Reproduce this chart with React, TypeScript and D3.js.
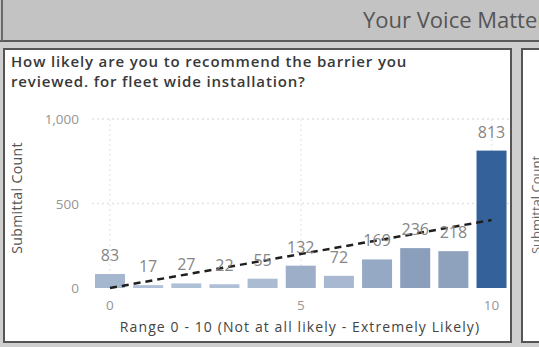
import React from "react";
import * as d3 from "d3";

// Survey responses: recommendation score (0-10) and submittal counts
const scores = [0, 1, 2, 3, 4, 5, 6, 7, 8, 9, 10];
const counts = [83, 17, 27, 22, 55, 132, 72, 169, 236, 218, 813];
const yTicks = [0, 500, 1000];
const xTicks = [0, 5, 10];
// Trend line values at the first and last score
const trendScores = [0, 10];
const trendValues = [0, 402];

const W = 539;
const H = 347;
const FONT = "'Open Sans', 'Noto Sans', sans-serif";

export default function App() {
  const x = d3.scaleLinear().domain([-0.5, 10.5]).range([90.9, 510.6]);
  const y = d3.scaleLinear().domain([0, 1000]).range([288, 119]);
  const barW = 30;
  const color = d3
    .scaleLinear<string>()
    .domain([0, 236, 813])
    .range(["#b3c4d9", "#8b9ebb", "#35619a"]);

  const trendLine = d3
    .line<number>()
    .x((_, i) => x(trendScores[i]))
    .y((d) => y(d));

  return (
    <svg
      width={W}
      height={H}
      style={{ position: "absolute", left: 0, top: 0, display: "block" }}
    >
      <defs>
        <clipPath id="sidePanel">
          <rect x={522} y={49} width={17} height={293} />
        </clipPath>
      </defs>

      {/* page background and header band */}
      <rect x={0} y={0} width={W} height={H} fill="#cfcfcf" />
      <rect x={0} y={0} width={W} height={41} fill="#c3c3c3" />
      <line x1={0} x2={W} y1={41} y2={41} stroke="#5a5a5a" strokeWidth={2} />
      <line x1={2} x2={2} y1={0} y2={41} stroke="#6a6a6a" strokeWidth={2} />
      <text x={363} y={28} fontFamily={FONT} fontSize={22} fill="#555">
        Your Voice Matters
      </text>

      {/* main panel */}
      <rect
        x={4}
        y={49}
        width={507}
        height={293}
        fill="#ffffff"
        stroke="#555"
        strokeWidth={2}
      />
      {/* neighbouring panel */}
      <rect
        x={522}
        y={49}
        width={40}
        height={293}
        fill="#ffffff"
        stroke="#555"
        strokeWidth={2}
      />
      <g clipPath="url(#sidePanel)">
        <text
          transform={`translate(541, 205) rotate(-90)`}
          textAnchor="middle"
          fontFamily={FONT}
          fontSize={13}
          fill="#666"
        >
          Submittal Count
        </text>
      </g>

      {/* title */}
      <text
        x={11}
        y={67}
        fontFamily={FONT}
        fontSize={15}
        fontWeight={600}
        letterSpacing={0.85}
        fill="#383838"
      >
        How likely are you to recommend the barrier you
      </text>
      <text
        x={11}
        y={87}
        fontFamily={FONT}
        fontSize={15}
        fontWeight={600}
        letterSpacing={0.85}
        fill="#383838"
      >
        reviewed. for fleet wide installation?
      </text>

      {/* gridlines */}
      {yTicks
        .filter((t) => t > 0)
        .map((t) => (
          <line
            key={`gy${t}`}
            x1={92}
            x2={x(10.5)}
            y1={y(t)}
            y2={y(t)}
            stroke="#e2e2e2"
            strokeWidth={1.5}
            strokeDasharray="2 3"
          />
        ))}
      {xTicks.map((t) => (
        <line
          key={`gx${t}`}
          x1={x(t)}
          x2={x(t)}
          y1={y(1000)}
          y2={y(0)}
          stroke="#ebebeb"
          strokeWidth={1.5}
          strokeDasharray="2 3"
        />
      ))}

      {/* y axis labels */}
      {yTicks.map((t) => (
        <text
          key={`ty${t}`}
          x={79}
          y={y(t) + 5}
          textAnchor="end"
          fontFamily={FONT}
          fontSize={13.5}
          fill="#959595"
        >
          {d3.format(",")(t)}
        </text>
      ))}
      <text
        transform={`translate(22, 198) rotate(-90)`}
        textAnchor="middle"
        fontFamily={FONT}
        fontSize={14}
        letterSpacing={0.4}
        fill="#555"
      >
        Submittal Count
      </text>

      {/* bars */}
      {scores.map((s, i) => (
        <rect
          key={`b${s}`}
          x={x(s) - barW / 2}
          y={y(counts[i])}
          width={barW}
          height={y(0) - y(counts[i])}
          fill={color(counts[i])}
        />
      ))}

      {/* trend line */}
      <path
        d={trendLine(trendValues) || ""}
        fill="none"
        stroke="#1f1f1f"
        strokeWidth={2.5}
        strokeDasharray="7 5"
      />

      {/* data labels */}
      {scores.map((s, i) => (
        <text
          key={`l${s}`}
          x={x(s)}
          y={y(counts[i]) - 13}
          textAnchor="middle"
          fontFamily={FONT}
          fontSize={16}
          fill="#858585"
        >
          {counts[i]}
        </text>
      ))}

      {/* x axis labels */}
      {xTicks.map((t) => (
        <text
          key={`tx${t}`}
          x={x(t)}
          y={310}
          textAnchor="middle"
          fontFamily={FONT}
          fontSize={13.5}
          fill="#959595"
        >
          {t}
        </text>
      ))}
      <text
        x={300}
        y={332}
        textAnchor="middle"
        fontFamily={FONT}
        fontSize={14}
        letterSpacing={1.1}
        fill="#444"
      >
        Range 0 - 10 (Not at all likely - Extremely Likely)
      </text>
    </svg>
  );
}
